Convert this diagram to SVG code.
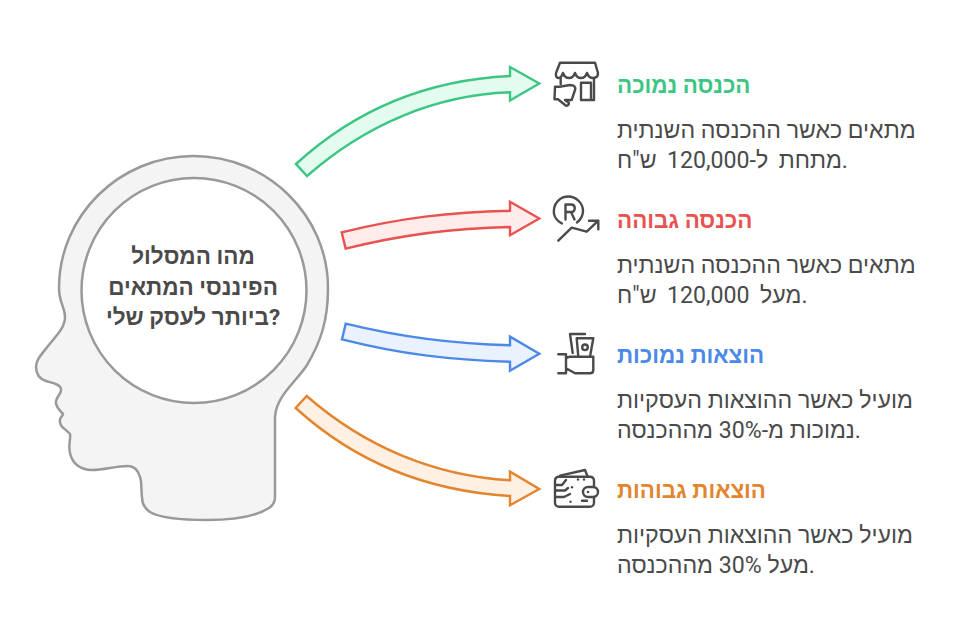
<svg xmlns="http://www.w3.org/2000/svg" width="961" height="640" viewBox="0 0 961 640">
<style>
text{font-family:"Roboto","Liberation Sans",sans-serif;direction:ltr}
.t{font-size:22.400px;font-weight:700}
.b{font-size:23.150px;fill:#4a4a4a}
.n{word-spacing:4.700px}
.c{font-size:22.500px;font-weight:700;fill:#4a4a4a;text-anchor:middle}
.i{fill:none;stroke:#4a4a4a;stroke-width:2.400;stroke-linecap:round;stroke-linejoin:round}
.d{fill:#4a4a4a}
.a{stroke-width:2.400;stroke-linejoin:miter}
</style>
<rect width="961" height="640" fill="#fff"/>
<g id="head">
<path d="M193.500 156C268 156 328 216 328 288C328 322 320 343 307 365C297 381 276 396 275 417L275 497C275 503 272 506 269 508C255 517 230 520 207 520C185 520 160 518 150 512C144 508 142 503 142 497C141 490 142 482 140 477C138 470 134 466 128 466C116 466 104 470 92 470C80 470 72 463 70 453C68 445 71 438 70 434C66 429 59 427 60 420C60 417 63 416 63 414C59 410 55 405 56 401C57 396 62 393 61 389C60 384 52 383 46 381C40 379 36 374 36 367C36 360 41 355 48 346C56 336 65 328 65 317C65 307 59 303 59 288C59 216 119 156 193.500 156Z" fill="#f4f4f4" stroke="#999" stroke-width="2.500"/>
<circle cx="194" cy="290.500" r="112.500" fill="#fff" stroke="#999" stroke-width="2.500"/>
<text class="c" x="193" y="264">מהו המסלול</text>
<text class="c" x="193" y="295">הפיננסי המתאים</text>
<text class="c" x="193" y="325">ביותר לעסק שלי?</text>
</g>
<g id="connectors">
<path class="a" d="M296 164C355 110 425 80 510 76V67L539.300 83.500L510 100.500V92.300C435 95 365 125 307 176Z" fill="#e3fcef" stroke="#3cc583"/>
<path class="a" d="M341.700 232.300C400 218 450 212 510 210.700V201.700L539.300 218.500L510 235.300V227C450 228 400 235 345.700 248.700Z" fill="#ffeceb" stroke="#e8524f"/>
<path class="a" d="M345.700 323.700C400 337 450 344 510 345.300V336.700L539.300 353.700L510 370.700V361.700C450 360 400 354 342 339.300Z" fill="#e9f2fe" stroke="#4b89e8"/>
<path class="a" d="M306.700 396C365 447 435 476 510 480.300V471.700L539.300 489L510 505.300V496C425 491 355 462 295.700 408Z" fill="#fef0e2" stroke="#e2852e"/>
</g>
<g id="n1">
<g class="i">
<path d="M560 62.700H595L598 73C598 76 596 78 593 78C590 78 588 76 587 73C586 76 584 78 581 78C578 78 576 76 575 73C574 76 572 78 569 78C566 78 564 76 563 73C562 76 560 78 558.500 78C556.500 78 555.500 76 556 73Z"/>
<path d="M560.700 78V84M594 78V100H581V82.700H591V100"/>
<path d="M555 86.700H559.500L570 85C574 85 576 87 575 90L571.700 100H565L569 103C569 105 567 106 566 105.700L558 99.300H554.500Z"/>
</g>
<text class="t" x="617" y="93" fill="#3cc583">הכנסה נמוכה</text>
<text class="b" x="617" y="137.500">מתאים כאשר ההכנסה השנתית</text>
<text class="b n" x="617" y="168">מתחת ל-120,000 ש"ח.</text>
</g>
<g id="n2">
<g class="i">
<path d="M562 223.500C555 220 553 214 554 209C555 202 561 196.500 568.300 196.500C576 196.500 583 203 583 211C583 216 580 220 577 222.500"/>
<path d="M565.500 219.500V204.500H571C576 204.500 576 212 571 212H565.500M571 212L574.500 219.500"/>
<path d="M558.300 240.700L571.700 227.700L586.700 231.700L598.300 220.700M589 220.700H598.300V229.300"/>
</g>
<text class="t" x="617" y="228" fill="#e8524f">הכנסה גבוהה</text>
<text class="b" x="617" y="273">מתאים כאשר ההכנסה השנתית</text>
<text class="b n" x="617" y="303">מעל 120,000 ש"ח.</text>
</g>
<g id="n3">
<g class="i">
<path d="M572.700 353L570 334H585"/>
<path d="M576.700 338.300H593.300L590 356.700M578.300 356.700L576.700 338.300"/>
<circle cx="585" cy="347.300" r="2.800"/>
<path d="M558.300 354.300H566V373.300H558.300M566 358L570 356.700H593.300V370C593.300 372 592 373.300 590 373.300H575L566 368.300"/>
</g>
<text class="t" x="617" y="363" fill="#4b89e8">הוצאות נמוכות</text>
<text class="b" x="617" y="408">מועיל כאשר ההוצאות העסקיות</text>
<text class="b" x="617" y="438">נמוכות מ-30% מההכנסה.</text>
</g>
<g id="n4">
<g class="i">
<path d="M560 475.700L585 470L587.300 475.700"/>
<path d="M594 487V481C594 478 592 476.700 590 476.700H559C557 476.700 555 478 555 481V502.700C555 505 557 506.700 559 506.700H590C592 506.700 594 505 594 502.700V497"/>
<rect x="583" y="487" width="15" height="10" rx="5"/>
<path d="M556 485H562L566 480M556 490.500H565L568 488M556 497H564L570 494M582 500.700H587"/>
</g>
<g class="d"><circle cx="588" cy="492" r="1.300"/><circle cx="572" cy="487.300" r="1.200"/><circle cx="578" cy="479.500" r="1.200"/><circle cx="584" cy="479.500" r="1.200"/><circle cx="570.500" cy="501.700" r="1.200"/></g>
<text class="t" x="617" y="498" fill="#e2852e">הוצאות גבוהות</text>
<text class="b" x="617" y="543">מועיל כאשר ההוצאות העסקיות</text>
<text class="b" x="617" y="573">מעל 30% מההכנסה.</text>
</g>
</svg>
